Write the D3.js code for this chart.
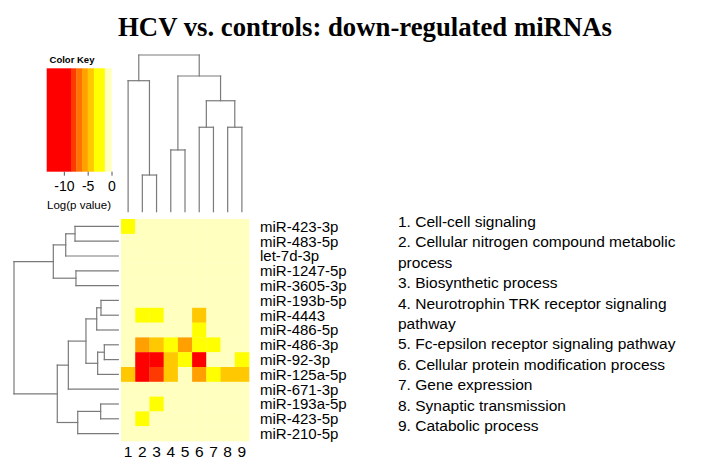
<!DOCTYPE html>
<html><head><meta charset="utf-8">
<script src="https://cdn.jsdelivr.net/npm/d3@7"></script>
<style>body{margin:0;background:#fff}svg{display:block}</style>
</head><body>
<svg id="chart" width="716" height="473"></svg>
<script>
const title = "HCV vs. controls: down-regulated miRNAs";
const rows = ["miR-423-3p","miR-483-5p","let-7d-3p","miR-1247-5p","miR-3605-3p","miR-193b-5p","miR-4443","miR-486-5p","miR-486-3p","miR-92-3p","miR-125a-5p","miR-671-3p","miR-193a-5p","miR-423-5p","miR-210-5p"];
const cols = ["1","2","3","4","5","6","7","8","9"];
// log(p value) per row (miRNA), per column (process 1..9)
const values = [
  [-3, 0, 0, 0, 0, 0, 0, 0, 0],
  [0, 0, 0, 0, 0, 0, 0, 0, 0],
  [0, 0, 0, 0, 0, 0, 0, 0, 0],
  [0, 0, 0, 0, 0, 0, 0, 0, 0],
  [0, 0, 0, 0, 0, 0, 0, 0, 0],
  [0, 0, 0, 0, 0, 0, 0, 0, 0],
  [0, -3, -3, 0, 0, -4.4, 0, 0, 0],
  [0, 0, 0, 0, 0, -3, 0, 0, 0],
  [0, -5.6, -4.4, -3, -5.6, -3, -3, 0, 0],
  [0, -10, -10, -4.4, -3, -10, 0, 0, -3],
  [-4.4, -10, -7.9, -4.4, 0, -5.6, -3, -4.4, -4.4],
  [0, 0, 0, 0, 0, 0, 0, 0, 0],
  [0, 0, -3, 0, 0, 0, 0, 0, 0],
  [0, -3, 0, 0, 0, 0, 0, 0, 0],
  [0, 0, 0, 0, 0, 0, 0, 0, 0]
];
const processes = ["Cell-cell signaling","Cellular nitrogen compound metabolic process","Biosynthetic process","Neurotrophin TRK receptor signaling pathway","Fc-epsilon receptor signaling pathway","Cellular protein modification process","Gene expression","Synaptic transmission","Catabolic process"];
const keyBreaks = [-8.5, -7.4, -6.2, -5.0, -3.7, -1.4];
const keyColors = ["#ff0000","#ff3a00","#ff7200","#ff9f00","#ffc800","#ffff00","#ffffbf"];
const keyDomain = [-13.6, 0];
const keyTicks = [-10, -5, 0];
// hclust-style merges: negative = leaf index (1-based), positive = earlier merge (1-based); third = height
const colMerges = [[-2,-3,0.234],[-6,-7,0.539],[-8,-9,0.539],[-4,-5,0.394],[2,3,0.708],[-1,1,0.836],[4,5,0.866],[6,7,1.0]];
const rowMerges = [[-1,-2,0.415],[-3,1,0.504],[-4,-5,0.406],[2,3,0.623],[-6,-7,0.166],[-8,5,0.207],[-9,-10,0.134],[-11,7,0.198],[6,8,0.310],[-12,9,0.479],[-13,-14,0.169],[-15,11,0.389],[10,12,0.585],[4,13,1.0]];

const svg = d3.select("#chart");
const font = "'Liberation Sans', Arial, sans-serif";
const grey = "#7a7a7a";

const x = d3.scaleBand().domain(cols).range([121, 249]);
const y = d3.scaleBand().domain(rows).range([219, 441]);
const color = d3.scaleThreshold().domain(keyBreaks).range(keyColors);

// heatmap cells
const cells = [];
rows.forEach((r, i) => cols.forEach((c, j) => cells.push({r, c, v: values[i][j]})));
svg.append("g").selectAll("rect").data(cells).join("rect")
  .attr("x", d => x(d.c)).attr("y", d => y(d.r))
  .attr("width", x.bandwidth() + 0.3).attr("height", y.bandwidth() + 0.3)
  .attr("fill", d => color(d.v));

// row labels
svg.append("g").selectAll("text").data(rows).join("text")
  .attr("x", 260).attr("y", d => y(d) + y.bandwidth() / 2)
  .attr("dy", "0.36em").attr("font-family", font).attr("font-size", 15)
  .text(d => d);

// column labels
svg.append("g").selectAll("text").data(cols).join("text")
  .attr("x", d => x(d) + x.bandwidth() / 2).attr("y", 457)
  .attr("text-anchor", "middle").attr("font-family", font).attr("font-size", 15.5)
  .text(d => d);

// dendrogram builder
function dendro(merges, leafPos) {
  const nodes = [];
  const get = k => k < 0 ? {pos: leafPos[-k - 1], h: 0} : nodes[k - 1];
  const segs = [];
  merges.forEach(m => {
    const a = get(m[0]), b = get(m[1]), h = m[2];
    segs.push([a.pos, a.h, a.pos, h]);
    segs.push([b.pos, b.h, b.pos, h]);
    segs.push([a.pos, h, b.pos, h]);
    nodes.push({pos: (a.pos + b.pos) / 2, h});
  });
  return segs;
}
const colH = d3.scaleLinear().domain([0, 1]).range([211.7, 55]);
const colSegs = dendro(colMerges, cols.map(c => x(c) + x.bandwidth() / 2));
svg.append("g").selectAll("line").data(colSegs).join("line")
  .attr("x1", d => d[0]).attr("y1", d => colH(d[1]))
  .attr("x2", d => d[2]).attr("y2", d => colH(d[3]))
  .attr("stroke", grey).attr("stroke-width", 1.2).attr("stroke-linecap", "square");

const rowH = d3.scaleLinear().domain([0, 1]).range([118.3, 14]);
const rowSegs = dendro(rowMerges, rows.map(r => y(r) + y.bandwidth() / 2));
svg.append("g").selectAll("line").data(rowSegs).join("line")
  .attr("y1", d => d[0]).attr("x1", d => rowH(d[1]))
  .attr("y2", d => d[2]).attr("x2", d => rowH(d[3]))
  .attr("stroke", grey).attr("stroke-width", 1.2).attr("stroke-linecap", "square");

// color key
const kx = d3.scaleLinear().domain(keyDomain).range([46.7, 111.5]);
const segBounds = [keyDomain[0], ...keyBreaks, keyDomain[1]];
const segs = d3.range(keyColors.length).map(i => ({a: segBounds[i], b: segBounds[i + 1], c: keyColors[i]}));
svg.append("g").selectAll("rect").data(segs).join("rect")
  .attr("x", d => kx(d.a)).attr("y", 68.3)
  .attr("width", d => kx(d.b) - kx(d.a) + 0.3).attr("height", 103.4)
  .attr("fill", d => d.c);
const kAxis = svg.append("g").attr("transform", "translate(0,171.7)")
  .call(d3.axisBottom(kx).tickValues(keyTicks).tickSize(4).tickFormat(d3.format("d")));
kAxis.select(".domain").remove();
kAxis.selectAll("line").attr("stroke", "#555");
kAxis.selectAll("text").attr("font-family", font).attr("font-size", 14).attr("fill", "#000")
  .attr("y", 9).attr("dy", "0.71em").text(d => d === 0 ? "0" : "-" + Math.abs(d));
svg.append("text").attr("x", 72).attr("y", 63).attr("text-anchor", "middle")
  .attr("font-family", font).attr("font-size", 9.5).attr("font-weight", "bold").text("Color Key");
svg.append("text").attr("x", 79).attr("y", 209).attr("text-anchor", "middle")
  .attr("font-family", font).attr("font-size", 11.5).text("Log(p value)");

// legend with wrapping
const leg = svg.append("g");
let ly = 227;
const maxW = 318;
processes.forEach((p, i) => {
  const words = (i + 1 + ". " + p).split(" ");
  let line = [];
  let t = leg.append("text").attr("x", 398).attr("y", ly).attr("font-family", font).attr("font-size", 15.5);
  words.forEach(w => {
    line.push(w);
    t.text(line.join(" "));
    if (t.node().getComputedTextLength() > maxW && line.length > 1) {
      line.pop();
      t.text(line.join(" "));
      line = [w];
      ly += 20.4;
      t = leg.append("text").attr("x", 398).attr("y", ly).attr("font-family", font).attr("font-size", 15.5).text(w);
    }
  });
  ly += 20.4;
});

// title, sized to span the same width as in the reference
const tt = svg.append("text").attr("x", 365).attr("y", 36).attr("text-anchor", "middle")
  .attr("font-family", "'Liberation Serif', 'Times New Roman', serif").attr("font-weight", "bold")
  .attr("font-size", 28).text(title);
const tw = tt.node().getComputedTextLength();
tt.attr("font-size", Math.min(32, 28 * 494 / tw));
</script>
</body></html>
